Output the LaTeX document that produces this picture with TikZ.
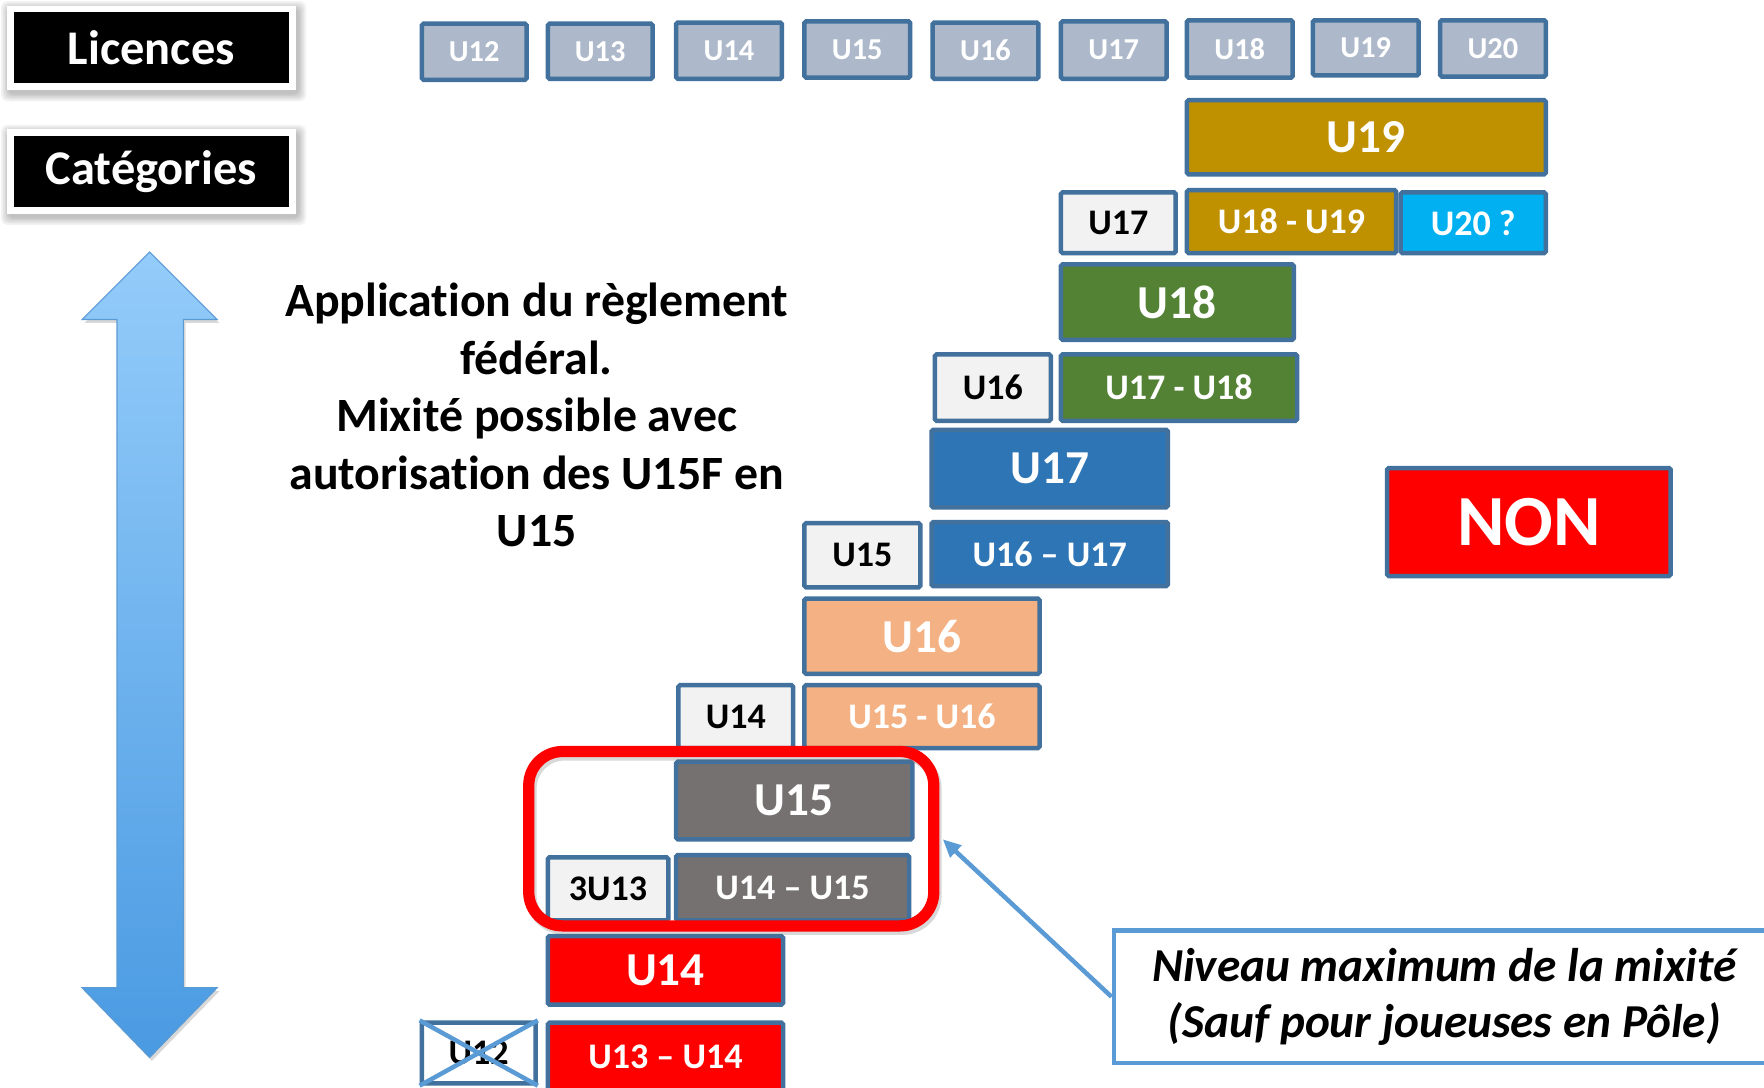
\documentclass[tikz,border=0pt]{standalone}
\usepackage{fontspec}
\setmainfont{Carlito}[Ligatures=NoCommon]
\usetikzlibrary{shadows,patterns,arrows.meta}
\definecolor{bord}{HTML}{41719C}
\definecolor{lic}{HTML}{ADB9CA}
\definecolor{light}{HTML}{F2F2F2}
\definecolor{gold}{HTML}{BF9000}
\definecolor{cyanb}{HTML}{00B0F0}
\definecolor{green}{HTML}{548235}
\definecolor{blue}{HTML}{2E75B6}
\definecolor{salmon}{HTML}{F4B183}
\definecolor{grayb}{HTML}{767171}
\definecolor{redb}{HTML}{FF0000}
\definecolor{callb}{HTML}{5B9BD5}
\definecolor{arrtop}{HTML}{94CCFA}
\definecolor{arrbot}{HTML}{4A9AE2}
\newcommand\UB[9]{\node[ubox, fill=#6, text=#7, font=\bfseries\fontsize{#8}{#8}\selectfont,
  minimum width={(#4-#2-4)*1pt}, minimum height={(#5-#3-4)*1pt}] (#1) at ({(#2+#4)/2},{(#3+#5)/2}) {#9};}
\newcommand\softshadow[4]{\foreach \e in {0,1.5,3,4.5,6}{\fill[black, opacity=0.05, rounded corners=5pt]
  ({#1+1-\e},{#2+2-\e}) rectangle ({#3+3+\e},{#4+4+\e});}}
\begin{document}
\begin{tikzpicture}[x=1pt,y=-1pt,
  ubox/.style={draw=bord, line width=4pt, rounded corners=1.5pt, inner sep=0pt},
  labbox/.style={fill=black, draw=white, line width=6pt, text=white, inner sep=0pt,
    minimum width=251pt, minimum height=69pt, font=\bfseries\fontsize{43}{43}\selectfont},
  plain/.style={align=center, font=\bfseries\fontsize{42.5}{51}\selectfont, inner sep=0pt},
  callout/.style={draw=callb, line width=4pt, fill=white, inner sep=0pt, align=center,
    font=\bfseries\itshape\fontsize{42}{50}\selectfont},
  conn/.style={draw=callb, line width=4pt, -{Triangle[length=16pt,width=14pt]}},
  xline/.style={draw=callb, line width=4pt},
  frame/.style={draw=redb, line width=10pt, rounded corners=30pt, inner sep=0pt,
    drop shadow={opacity=0.25, shadow xshift=2pt, shadow yshift=-3pt, fill=none, draw=black!60}}
]
\useasboundingbox[fill=white] (0,0) rectangle (1568,967);

% left labels
\softshadow{6}{5}{263}{80}
\softshadow{6}{115}{263}{190}
\node[labbox] (lic) at (134.5,42.5) {Licences};
\node[labbox] (cat) at (134.5,152.5) {Catégories};

% vertical double arrow
\path[top color=arrtop, bottom color=arrbot, draw=callb, line width=1pt,
  drop shadow={opacity=0.3, shadow xshift=2pt, shadow yshift=-3pt}]
  (133,224) -- (193,284) -- (163,284) -- (163,878) -- (193,878) -- (133,940)
  -- (73,878) -- (104,878) -- (104,284) -- (73,284) -- cycle;

% text
\node[plain] (app) at (477,369) {Application du règlement\\fédéral.\\Mixité possible avec\\autorisation des U15F en\\U15};

% licences row
\UB{l12}{373}{19}{470}{73}{lic}{white}{27}{U12}
\UB{l13}{485}{19}{582}{72}{lic}{white}{27}{U13}
\UB{l14}{599}{18}{697}{72}{lic}{white}{27}{U14}
\UB{l15}{713}{17}{811}{71}{lic}{white}{27}{U15}
\UB{l16}{827}{18}{925}{72}{lic}{white}{27}{U16}
\UB{l17}{941}{17}{1039}{72}{lic}{white}{27}{U17}
\UB{l18}{1053}{16}{1151}{71}{lic}{white}{27}{U18}
\UB{l19}{1165}{16}{1263}{69}{lic}{white}{27}{U19}
\UB{l20}{1278}{16}{1376}{70}{lic}{white}{27}{U20}

% categories
\UB{c19}{1053}{87}{1376}{157}{gold}{white}{42}{U19}
\UB{p17}{941}{169}{1047}{227}{light}{black}{32}{U17}
\UB{c1819}{1053}{167}{1243}{227}{gold}{white}{32}{U18 - U19}
\UB{c20}{1243}{169}{1376}{227}{cyanb}{white}{32}{U20 ?}
\UB{c18}{941}{233}{1152}{304}{green}{white}{42}{U18}
\UB{p16}{829}{313}{936}{376}{light}{black}{32}{U16}
\UB{c1718}{941}{313}{1155}{376}{green}{white}{32}{U17 - U18}
\UB{c17}{826}{380}{1040}{453}{blue}{white}{42}{U17}
\UB{p15}{713}{463}{820}{524}{light}{black}{32}{U15}
\UB{c1617}{826}{462}{1040}{523}{blue}{white}{32}{U16 – U17}
\UB{c16}{713}{530}{926}{601}{salmon}{white}{42}{U16}
\UB{p14}{601}{607}{707}{667}{light}{black}{32}{U14}
\UB{c1516}{713}{607}{926}{667}{salmon}{white}{32}{U15 - U16}
\UB{c15}{599}{675}{813}{748}{grayb}{white}{42}{U15}
\UB{p13}{485}{760}{596}{820}{light}{black}{32}{3U13}
\UB{c1415}{599}{758}{810}{820}{grayb}{white}{32}{U14 – U15}
\UB{c14}{485}{830}{698}{895}{redb}{white}{42}{U14}
\node[ubox, fill=white, preaction={pattern=north east lines, pattern color=black!12}, text=black,
  font=\bfseries\fontsize{32}{32}\selectfont, minimum width=101pt, minimum height=54pt]
  (p12) at (425.5,936) {U12};
\draw[xline] (p12.north west) -- (p12.south east);
\draw[xline] (p12.south west) -- (p12.north east);
\UB{c1314}{485}{907}{698}{972}{redb}{white}{32}{U13 – U14}

% NON
\UB{non}{1231}{414}{1487}{514}{redb}{white}{64}{NON}

% red frame
\node[frame, minimum width=360pt, minimum height=155pt] (mix) at (650,745.5) {};

% callout
\node[callout, minimum width=588pt, minimum height=118pt] (note) at (1284,886)
  {Niveau maximum de la mixité\\(Sauf pour joueuses en Pôle)};
\coordinate (tip) at (838,746);
\draw[conn] (note.west) -- (tip);
\end{tikzpicture}
\end{document}
